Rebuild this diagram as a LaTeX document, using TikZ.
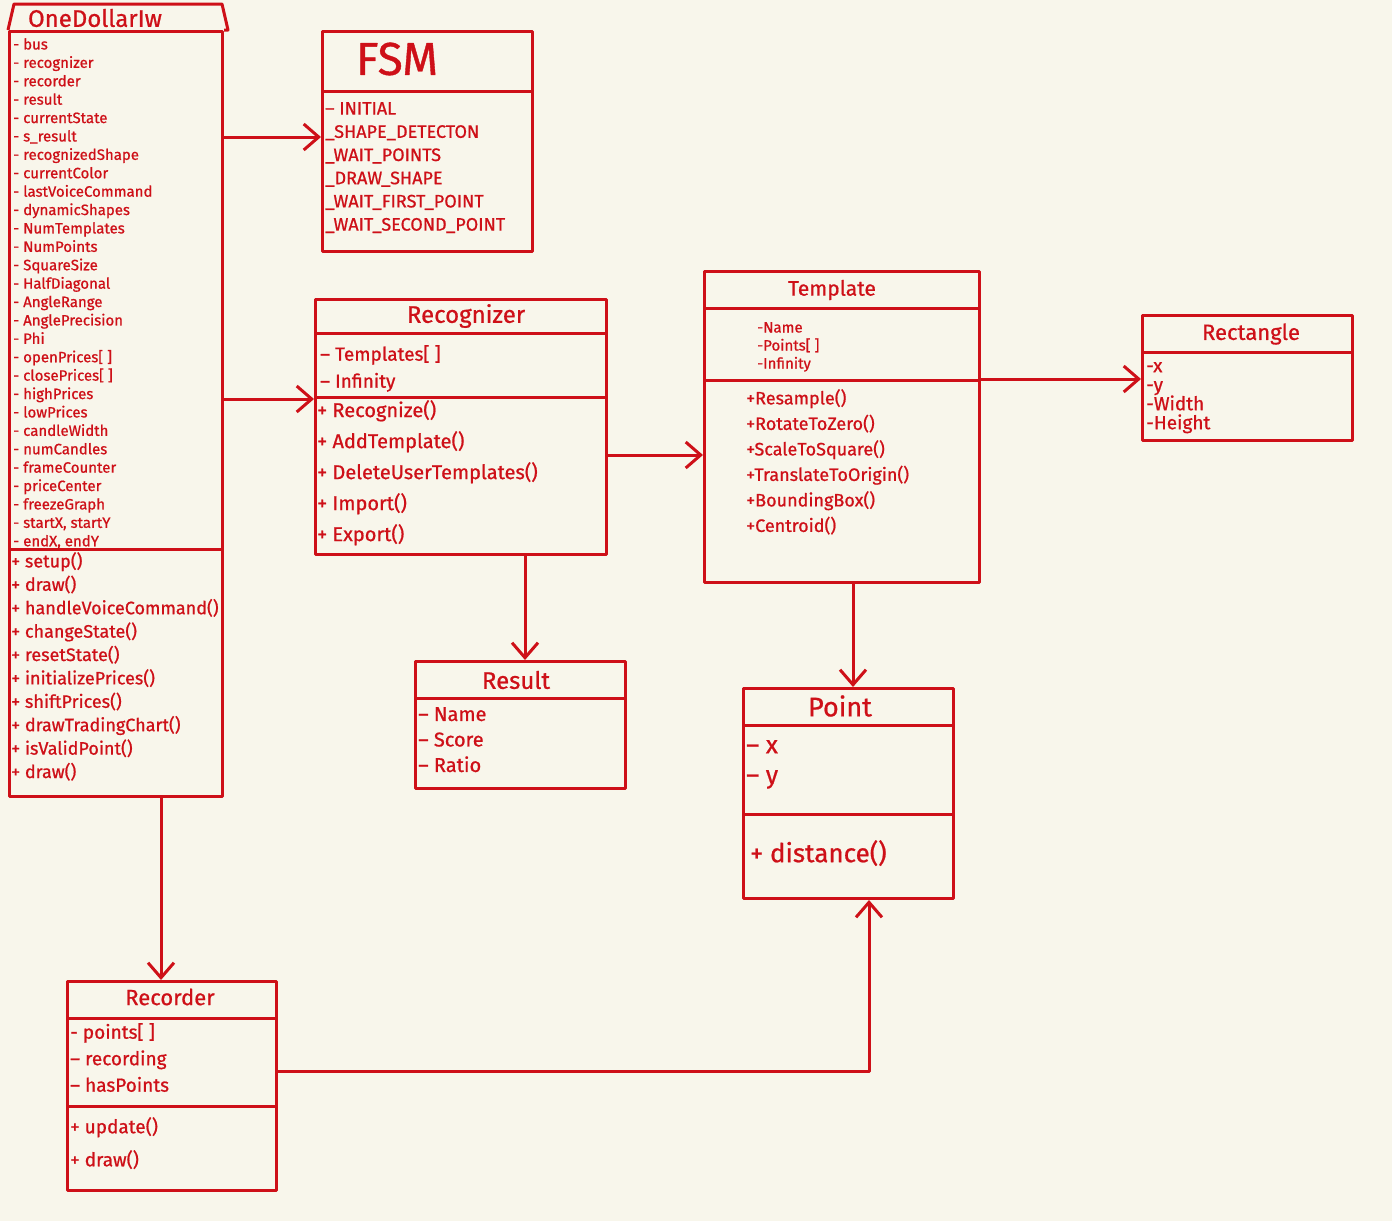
\documentclass[tikz,border=0pt]{standalone}
\usepackage{fontspec}
\setmainfont{Fira Sans}[FakeBold=0.8]
\usetikzlibrary{arrows.meta,positioning}
\definecolor{ink}{RGB}{206,16,24}
\definecolor{paper}{RGB}{248,246,235}

\begin{document}
\begin{tikzpicture}[x=1pt,y=-1pt,line join=round,
  box/.style={draw=ink,line width=3pt,anchor=north west,inner sep=0pt},
  title/.style={text=ink,inner sep=0pt,font=\fontsize{20}{24}\selectfont},
  items/.style={text=ink,anchor=north west,align=left,inner sep=0pt},
  sep/.style={draw=ink,line width=3pt},
  link/.style={draw=ink,line width=3pt,-{Straight Barb[length=15pt,width=26pt,line width=3pt]}}]
\fill[paper] (0,0) rectangle (1392,1221);
\useasboundingbox (0,0) rectangle (1392,1221);

\node[box,minimum width=213pt,minimum height=765pt] (odi) at (8,30) {};
\draw[sep] (odi.north west) -- ++(6,-26) -- ++(208,0) -- ++(6,26) -- (odi.north east);
\node[title,font=\fontsize{24}{28}\selectfont] (odi-t) at (95,18) {OneDollarIw};
\draw[sep] (odi.west |- 0,549) -- (odi.east |- 0,549);
\node[items,font=\fontsize{15}{18.4}\selectfont] (odi-a) at (13,38) {- bus\\- recognizer\\- recorder\\- result\\- currentState\\- s\_result\\- recognizedShape\\- currentColor\\- lastVoiceCommand\\- dynamicShapes\\- NumTemplates\\- NumPoints\\- SquareSize\\- HalfDiagonal\\- AngleRange\\- AnglePrecision\\- Phi\\- openPrices[ ]\\- closePrices[ ]\\- highPrices\\- lowPrices\\- candleWidth\\- numCandles\\- frameCounter\\- priceCenter\\- freezeGraph\\- startX, startY\\- endX, endY};
\node[items,font=\fontsize{18}{23.4}\selectfont] (odi-m) at (11,552) {+ setup()\\+ draw()\\+ handleVoiceCommand()\\+ changeState()\\+ resetState()\\+ initializePrices()\\+ shiftPrices()\\+ drawTradingChart()\\+ isValidPoint()\\+ draw()};

\node[box,minimum width=210pt,minimum height=220pt] (fsm) at (321,30) {};
\node[title,font=\fontsize{46}{50}\selectfont] (fsm-t) at (397,59) {FSM};
\draw[sep] (fsm.west |- 0,91) -- (fsm.east |- 0,91);
\node[items,font=\fontsize{18}{23.2}\selectfont] (fsm-a) at (325,102) {– INITIAL\\\_SHAPE\_DETECTON\\\_WAIT\_POINTS\\\_DRAW\_SHAPE\\\_WAIT\_FIRST\_POINT\\\_WAIT\_SECOND\_POINT};

\node[box,minimum width=291pt,minimum height=255pt] (rec) at (314,298) {};
\node[title,font=\fontsize{24}{28}\selectfont] (rec-t) at (466,316) {Recognizer};
\draw[sep] (rec.west |- 0,333) -- (rec.east |- 0,333);
\draw[sep] (rec.west |- 0,397) -- (rec.east |- 0,397);
\node[items,font=\fontsize{19}{27}\selectfont] (rec-a) at (320,345) {– Templates[ ]\\– Infinity};
\node[items,font=\fontsize{20}{31}\selectfont] (rec-m) at (317,400) {+ Recognize()\\+ AddTemplate()\\+ DeleteUserTemplates()\\+ Import()\\+ Export()};

\node[box,minimum width=275pt,minimum height=311pt] (tpl) at (703,270) {};
\node[title,font=\fontsize{21}{25}\selectfont] (tpl-t) at (832,290) {Template};
\draw[sep] (tpl.west |- 0,308) -- (tpl.east |- 0,308);
\draw[sep] (tpl.west |- 0,380) -- (tpl.east |- 0,380);
\node[items,font=\fontsize{15}{18}\selectfont] (tpl-a) at (757,322) {-Name\\-Points[ ]\\-Infinity};
\node[items,font=\fontsize{18}{25.5}\selectfont] (tpl-m) at (746,389) {+Resample()\\+RotateToZero()\\+ScaleToSquare()\\+TranslateToOrigin()\\+BoundingBox()\\+Centroid()};

\node[box,minimum width=210pt,minimum height=125pt] (rct) at (1141,314) {};
\node[title,font=\fontsize{22}{26}\selectfont] (rct-t) at (1251,334) {Rectangle};
\draw[sep] (rct.west |- 0,352) -- (rct.east |- 0,352);
\node[items,font=\fontsize{19}{19}\selectfont] (rct-a) at (1146,362) {-x\\-y\\-Width\\-Height};

\node[box,minimum width=210pt,minimum height=127pt] (res) at (414,660) {};
\node[title,font=\fontsize{24}{28}\selectfont] (res-t) at (516,680) {Result};
\draw[sep] (res.west |- 0,698) -- (res.east |- 0,698);
\node[items,font=\fontsize{20}{25.5}\selectfont] (res-a) at (418,707) {– Name\\– Score\\– Ratio};

\node[box,minimum width=210pt,minimum height=210pt] (pt) at (742,687) {};
\node[title,font=\fontsize{27}{30}\selectfont] (pt-t) at (840,706) {Point};
\draw[sep] (pt.west |- 0,725) -- (pt.east |- 0,725);
\draw[sep] (pt.west |- 0,814) -- (pt.east |- 0,814);
\node[items,font=\fontsize{25}{30}\selectfont] (pt-a) at (746,740) {– x\\– y};
\node[items,font=\fontsize{26}{30}\selectfont] (pt-m) at (750,840) {+ distance()};

\node[box,minimum width=209pt,minimum height=209pt] (rcd) at (66,980) {};
\node[title,font=\fontsize{22}{26}\selectfont] (rcd-t) at (170,997) {Recorder};
\draw[sep] (rcd.west |- 0,1018) -- (rcd.east |- 0,1018);
\draw[sep] (rcd.west |- 0,1106) -- (rcd.east |- 0,1106);
\node[items,font=\fontsize{19}{26.5}\selectfont] (rcd-a) at (70,1023) {- points[ ]\\– recording\\– hasPoints};
\node[items,font=\fontsize{19}{33}\selectfont] (rcd-m) at (70,1117) {+ update()\\+ draw()};

\draw[link] (odi.east |- 0,137) -- (fsm.west |- 0,137);
\draw[link] (odi.east |- 0,399) -- (rec.west |- 0,399);
\draw[link] (rec.east |- 0,455) -- (tpl.west |- 0,455);
\draw[link] (tpl.east |- 0,379) -- (rct.west |- 0,379);
\draw[link] (rec.south -| 525,0) -- (res.north -| 525,0);
\draw[link] (tpl.south -| 853,0) -- (pt.north -| 853,0);
\draw[link] (odi.south -| 161,0) -- (rcd.north -| 161,0);
\draw[link] (rcd.east |- 0,1071) -| (pt.south -| 869,0);
\end{tikzpicture}
\end{document}
